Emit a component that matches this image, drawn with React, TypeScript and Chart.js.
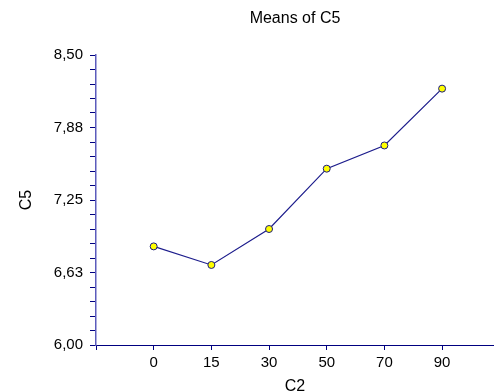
import React, { useEffect, useRef } from "react";
import { Chart, registerables } from "chart.js";

Chart.register(...registerables);

const chartTitle = "Means of C5";
const xAxisTitle = "C2";
const yAxisTitle = "C5";
const categories = ["0", "15", "30", "50", "70", "90"];
const meansC5 = [6.85, 6.69, 7.0, 7.52, 7.72, 8.21];
const yTickLabels = ["6,00", "6,63", "7,25", "7,88", "8,50"];
const yMin = 6.0;
const yMax = 8.5;
const yMinorStep = 0.125;

const FONT = "'Liberation Sans', Arial, sans-serif";
const NAVY = "#000080";

export default function App() {
  const ref = useRef<HTMLCanvasElement | null>(null);

  useEffect(() => {
    if (!ref.current) return;
    const titlePlugin = {
      id: "centerTitle",
      afterDraw(chart: any) {
        const { ctx, chartArea } = chart;
        ctx.save();
        ctx.font = `16px ${FONT}`;
        ctx.fillStyle = "#000";
        ctx.textAlign = "center";
        ctx.textBaseline = "middle";
        ctx.fillText(chartTitle, (chartArea.left + chartArea.right) / 2, 19);
        ctx.restore();
      },
    };
    const chart = new Chart(ref.current, {
      type: "line",
      data: {
        datasets: [
          {
            data: meansC5.map((v, i) => ({ x: i, y: v })),
            borderColor: "#1c1c8c",
            borderWidth: 1.2,
            pointBackgroundColor: "#ffff00",
            pointBorderColor: "#1a1a80",
            pointBorderWidth: 1,
            pointRadius: 3.5,
            tension: 0,
          },
        ],
      },
      options: {
        responsive: false,
        animation: false,
        layout: { autoPadding: false, padding: { top: 55, right: 0, left: 0, bottom: 0 } },
        plugins: {
          legend: { display: false },
          tooltip: { enabled: false },
          title: { display: false },
        },
        scales: {
          x: {
            type: "linear",
            min: -1,
            max: 5.9,
            afterFit: (s: any) => {
              s.height = 47;
              s.paddingLeft = 0;
              s.paddingRight = 0;
            },
            afterBuildTicks: (s: any) => {
              s.ticks = [-1, 0, 1, 2, 3, 4, 5].map((v) => ({ value: v }));
            },
            ticks: {
              autoSkip: false,
              maxRotation: 0,
              padding: 4,
              color: "#000",
              font: { family: FONT, size: 15 },
              callback: (v: any) => (v >= 0 && v < categories.length ? categories[v] : ""),
            },
            grid: {
              drawOnChartArea: false,
              drawTicks: true,
              tickLength: 5,
              tickColor: NAVY,
              tickWidth: 1,
            },
            border: { color: NAVY, width: 1 },
            title: {
              display: true,
              text: xAxisTitle,
              color: "#000",
              font: { family: FONT, size: 16, lineHeight: 1 },
              padding: { top: 0, bottom: -3 },
            },
          },
          y: {
            type: "linear",
            min: yMin,
            max: yMax,
            afterFit: (s: any) => {
              s.width = 96;
            },
            ticks: {
              stepSize: yMinorStep,
              autoSkip: false,
              padding: 7,
              color: "#000",
              font: { family: FONT, size: 15 },
              callback: (v: any) => {
                const k = Math.round((Number(v) - yMin) / yMinorStep);
                return k % 5 === 0 ? yTickLabels[k / 5] : "";
              },
            },
            grid: {
              drawOnChartArea: false,
              drawTicks: true,
              tickLength: 6,
              tickColor: NAVY,
              tickWidth: 1,
            },
            border: { color: "#5c5cbc", width: 1.5 },
            title: {
              display: true,
              text: yAxisTitle,
              color: "#000",
              font: { family: FONT, size: 16, lineHeight: 1 },
              padding: { top: 19, bottom: 0 },
            },
          },
        },
      },
      plugins: [titlePlugin],
    } as any);
    return () => chart.destroy();
  }, []);

  return (
    <div style={{ position: "absolute", left: 0, top: 0, width: 494, height: 392, background: "#fff" }}>
      <canvas ref={ref} width={494} height={392} style={{ display: "block" }} />
    </div>
  );
}
